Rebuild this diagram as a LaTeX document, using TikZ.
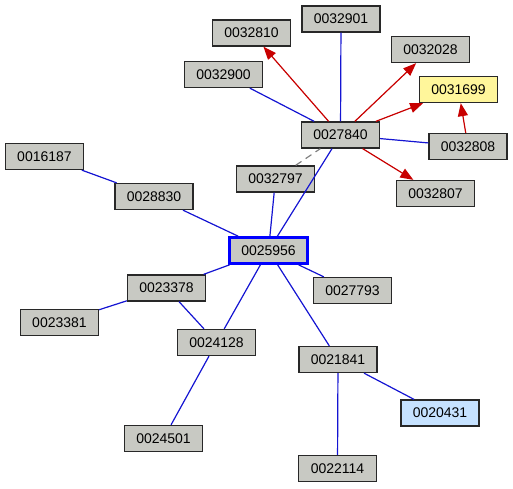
\documentclass[tikz,border=0pt]{standalone}
\usepackage{fontspec}
\setmainfont{Liberation Sans}
\usetikzlibrary{arrows.meta}
\definecolor{nodegray}{RGB}{200,201,195}
\definecolor{nodeyellow}{RGB}{255,246,155}
\definecolor{nodeblue}{RGB}{198,226,255}
\definecolor{edgeblue}{RGB}{20,20,210}
\definecolor{edgered}{RGB}{200,0,0}
\definecolor{bordergray}{RGB}{40,40,40}
\tikzset{
  nd/.style={draw=bordergray, line width=1.3pt, fill=nodegray, minimum width=78pt, minimum height=26pt, inner sep=0pt, font=\fontsize{14}{16}\selectfont},
  yel/.style={nd, fill=nodeyellow},
  lblue/.style={nd, fill=nodeblue},
  center/.style={nd, draw=blue, line width=2.6pt},
  ue/.style={draw=edgeblue, line width=1.2pt},
  de/.style={draw=edgered, fill=edgered, line width=1.2pt, -{Triangle[length=13pt,width=10pt]}},
  ge/.style={draw=gray, line width=1.2pt, dash pattern=on 7pt off 5pt},
}
\begin{document}
\begin{tikzpicture}[x=1pt,y=-1pt]
\useasboundingbox (0,0) rectangle (513,488);
\node[nd] (n32810) at (251.5,33) {0032810};
\node[nd] (n32901) at (341,19) {0032901};
\node[nd] (n32028) at (430.5,49.5) {0032028};
\node[yel] (n31699) at (458.5,89.5) {0031699};
\node[nd] (n32900) at (223.5,74.5) {0032900};
\node[nd] (n27840) at (340.5,135) {0027840};
\node[nd] (n32808) at (468,146.5) {0032808};
\node[nd] (n32797) at (275.5,179) {0032797};
\node[nd] (n32807) at (435.5,193.5) {0032807};
\node[nd] (n16187) at (44.5,156.5) {0016187};
\node[nd] (n28830) at (154,196.5) {0028830};
\node[center] (n25956) at (268.5,250.5) {0025956};
\node[nd] (n23378) at (166.5,288) {0023378};
\node[nd] (n27793) at (352.5,290.5) {0027793};
\node[nd] (n23381) at (59.5,322.5) {0023381};
\node[nd] (n24128) at (216.5,342.5) {0024128};
\node[nd] (n21841) at (338,359.5) {0021841};
\node[lblue] (n20431) at (440,413) {0020431};
\node[nd] (n24501) at (163.5,438.5) {0024501};
\node[nd] (n22114) at (337.5,468.5) {0022114};

\draw[de] (n27840) -- (n32810);
\draw[ue] (n27840) -- (n32901);
\draw[de] (n27840) -- (n32028);
\draw[de] (n27840) -- (n31699);
\draw[de] (n32808) -- (n31699);
\draw[ue] (n27840) -- (n32808);
\draw[de] (n27840) -- (n32807);
\draw[ue] (n27840) -- (n32900);
\draw[ge] (n32797) -- (n27840);
\draw[ue] (n27840) -- (n25956);
\draw[ue] (n32797) -- (n25956);
\draw[ue] (n16187) -- (n28830);
\draw[ue] (n28830) -- (n25956);
\draw[ue] (n25956) -- (n23378);
\draw[ue] (n25956) -- (n27793);
\draw[ue] (n25956) -- (n24128);
\draw[ue] (n25956) -- (n21841);
\draw[ue] (n23378) -- (n23381);
\draw[ue] (n23378) -- (n24128);
\draw[ue] (n24128) -- (n24501);
\draw[ue] (n21841) -- (n22114);
\draw[ue] (n21841) -- (n20431);
\end{tikzpicture}
\end{document}
